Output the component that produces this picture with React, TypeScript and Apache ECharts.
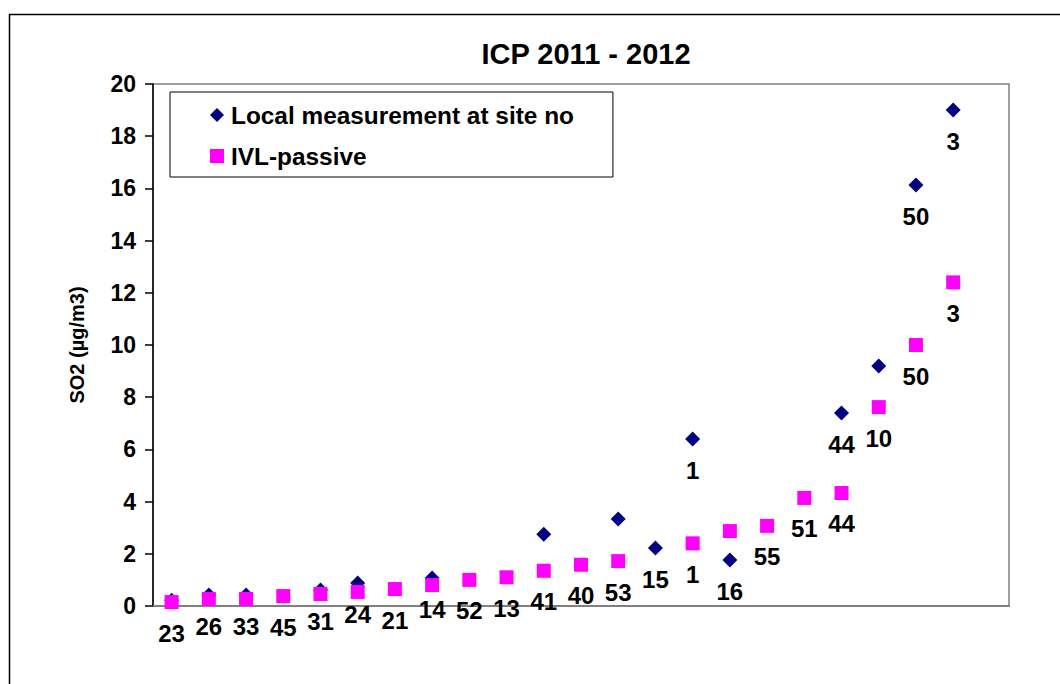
import React, { useEffect, useRef } from "react";
import * as echarts from "echarts";

const titleText = "ICP 2011 - 2012";
const yAxisName = "SO2 (µg/m3)";
const seriesNames = ["Local measurement at site no", "IVL-passive"];

// site numbers (one per x slot), plus an empty trailing slot
const sites = ["23", "26", "33", "45", "31", "24", "21", "14", "52", "13", "41", "40", "53", "15", "1", "16", "55", "51", "44", "10", "50", "3", ""];

const localValues = [0.22, 0.42, 0.42, null, 0.61, 0.88, null, 1.07, null, null, 2.75, null, 3.33, 2.22, 6.4, 1.76, null, null, 7.39, 9.2, 16.13, 19.0];
const ivlValues = [0.15, 0.27, 0.27, 0.38, 0.46, 0.54, 0.65, 0.8, 1.0, 1.1, 1.35, 1.58, 1.72, null, 2.4, 2.87, 3.07, 4.14, 4.33, 7.62, 10.0, 12.4];

const localLabels = ["", "26", "33", "", "31", "24", "", "14", "", "", "", "", "", "15", "1", "16", "", "", "44", "", "50", "3"];
const ivlLabels = ["23", "", "", "45", "", "", "21", "", "52", "13", "41", "40", "53", "", "1", "", "55", "51", "44", "10", "50", "3"];

const yMin = 0;
const yMax = 20;
const yInterval = 2;

const FONT = "Arial, 'Liberation Sans', sans-serif";

export default function App() {
  const ref = useRef<HTMLDivElement>(null);
  useEffect(() => {
    if (!ref.current) return;
    const chart = echarts.init(ref.current, null, { renderer: "svg" });
    const labelStyle = {
      show: true,
      position: "bottom",
      distance: 12,
      color: "#000",
      opacity: 1,
      fontFamily: FONT,
      fontWeight: "bold",
      fontSize: 24,
    };
    chart.setOption({
      animation: false,
      backgroundColor: "#fff",
      textStyle: { fontFamily: FONT },
      title: {
        text: titleText,
        left: 581,
        top: 34,
        textAlign: "center",
        textStyle: { fontFamily: FONT, fontWeight: "bold", fontSize: 29, color: "#000" },
      },
      graphic: [
        {
          type: "rect",
          shape: { x: 9.5, y: 14.5, width: 1200, height: 800 },
          style: { fill: "none", stroke: "#000", lineWidth: 1.5 },
          silent: true,
          z: -1,
        },
      ],
      legend: {
        orient: "vertical",
        left: 170,
        top: 92,
        padding: [9, 39, 7, 40],
        itemGap: 13,
        itemWidth: 14,
        itemHeight: 14,
        borderColor: "#000",
        borderWidth: 1,
        backgroundColor: "#fff",
        textStyle: { fontFamily: FONT, fontWeight: "bold", fontSize: 24.4, color: "#000", lineHeight: 28, padding: [0, 0, 0, 2] },
        data: [
          { name: seriesNames[0], icon: "diamond" },
          { name: seriesNames[1], icon: "rect" },
        ],
      },
      grid: {
        left: 153,
        top: 84,
        right: 51,
        bottom: 78,
        show: true,
        borderColor: "#808080",
        borderWidth: 1.5,
        backgroundColor: "transparent",
      },
      xAxis: {
        type: "category",
        data: sites,
        boundaryGap: true,
        axisLine: { show: true, lineStyle: { color: "#808080", width: 2 } },
        axisTick: { show: false },
        axisLabel: { show: false },
        splitLine: { show: false },
      },
      yAxis: {
        type: "value",
        min: yMin,
        max: yMax,
        interval: yInterval,
        name: yAxisName,
        nameLocation: "middle",
        nameGap: 66,
        nameRotate: 90,
        nameTextStyle: { fontFamily: FONT, fontWeight: "bold", fontSize: 20, color: "#000" },
        axisLine: { show: true, lineStyle: { color: "#000", width: 1.5 } },
        axisTick: { show: true, inside: false, length: 8, lineStyle: { color: "#000", width: 1.5 } },
        axisLabel: { margin: 17, fontFamily: FONT, fontWeight: "bold", fontSize: 23, color: "#000" },
        splitLine: { show: false },
      },
      series: [
        {
          name: seriesNames[0],
          type: "scatter",
          symbol: "diamond",
          symbolSize: [15, 15],
          itemStyle: { color: "#000080", opacity: 1 },
          data: localValues,
          label: { ...labelStyle, formatter: (p: any) => localLabels[p.dataIndex] || "" },
        },
        {
          name: seriesNames[1],
          type: "scatter",
          symbol: "rect",
          symbolSize: [14, 14],
          itemStyle: { color: "#FF00FF", opacity: 1 },
          data: ivlValues,
          label: { ...labelStyle, formatter: (p: any) => ivlLabels[p.dataIndex] || "" },
        },
      ],
    });
    return () => chart.dispose();
  }, []);
  return (
    <div
      ref={ref}
      style={{ position: "absolute", left: 0, top: 0, width: 1060, height: 684, overflow: "hidden" }}
    />
  );
}
